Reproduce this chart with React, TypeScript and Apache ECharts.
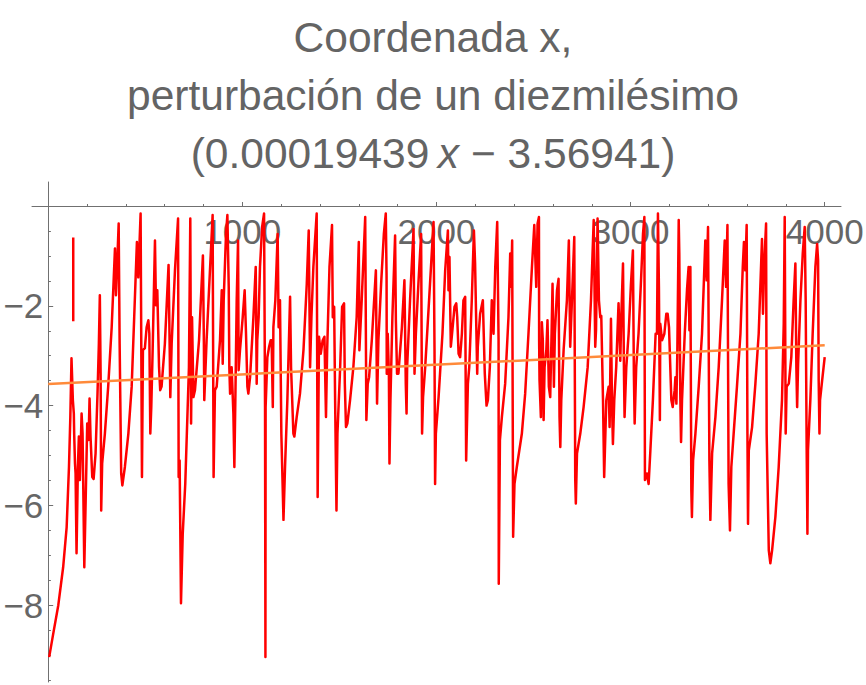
import React, { useEffect, useRef } from "react";
import * as echarts from "echarts";

// Red trajectory as [x, y] vertices, in five stretches
const stretch1: number[][] = [
  [5, -9.04], [26, -8.57], [52, -8.0], [77, -7.24], [95, -6.44], [107, -5.23], [114, -4.23], [120, -3.05],
  [127, -3.89], [132, -4.16], [134, -4.59], [138, -5.16], [141, -5.36], [146, -6.96], [153, -5.23], [158, -4.62],
  [163, -5.49], [172, -4.16], [177, -4.56], [186, -7.24], [193, -5.9], [201, -4.36], [208, -4.69], [213, -3.86],
  [218, -4.62], [227, -5.43], [234, -5.47], [244, -4.96], [254, -3.76], [261, -2.76], [266, -1.79], [270, -3.36],
  [273, -6.1], [278, -5.16], [292, -4.56], [309, -3.62], [327, -2.43], [344, -0.85], [349, -1.79], [356, -1.09],
  [363, -0.35], [368, -2.76], [376, -5.36], [382, -5.6], [395, -5.23], [413, -4.56], [430, -3.62], [443, -2.23],
  [457, -0.72], [464, -1.43], [476, -0.15], [483, -5.43], [488, -2.89], [498, -2.85], [507, -2.43], [516, -2.29],
  [521, -2.56], [526, -4.56], [531, -4.03], [538, -2.89], [550, -0.69], [555, -1.99], [562, -1.69], [571, -3.23],
  [577, -3.69], [584, -3.62], [601, -2.76], [620, -1.18], [626, -2.89], [629, -3.83], [636, -2.76], [653, -1.29],
  [669, -0.25], [672, -5.43], [677, -5.1], [684, -7.96], [693, -6.57], [706, -5.57], [725, -3.23], [732, -0.25],
  [736, -4.36], [741, -2.23], [748, -3.83], [756, -3.69], [777, -2.69], [797, -0.99], [802, -2.76], [804, -3.89],
];
const stretch2: number[][] = [
  [816, -2.69], [847, -0.18], [852, -5.43], [859, -3.69], [868, -3.62], [885, -2.69], [894, -1.69], [899, -3.16],
  [904, -1.89], [916, -0.56], [923, -0.18], [930, -1.62], [933, -3.23], [937, -3.76], [945, -3.23], [954, -4.16],
  [959, -5.23], [964, -3.89], [971, -1.89], [978, -0.69], [981, -3.29], [988, -2.89], [1002, -2.23], [1012, -1.69],
  [1019, -2.56], [1026, -3.62], [1031, -3.76], [1040, -3.43], [1057, -2.23], [1069, -1.22], [1074, -3.56], [1077, -2.69],
  [1084, -2.23], [1091, -1.22], [1102, -0.42], [1112, -0.15], [1117, -4.03], [1119, -9.04], [1120, -4.03], [1129, -3.03],
  [1138, -2.82], [1146, -2.69], [1151, -2.69], [1157, -4.03], [1160, -2.43], [1170, -1.89], [1182, -0.56], [1187, -2.43],
  [1194, -1.89], [1201, -4.56], [1212, -6.29], [1220, -5.23], [1232, -3.89], [1246, -1.82], [1251, -3.23], [1263, -4.56],
  [1268, -4.62], [1280, -4.23], [1297, -3.76], [1315, -2.89], [1332, -1.56], [1342, -0.49], [1349, -3.23], [1356, -2.23],
  [1366, -1.22], [1383, -0.15], [1388, -5.83], [1395, -2.62], [1404, -2.96], [1414, -2.69], [1423, -2.62], [1431, -4.23],
  [1437, -2.89], [1449, -1.22], [1462, -0.38], [1466, -2.23], [1473, -2.02], [1478, -3.89], [1485, -6.1], [1490, -4.56],
  [1504, -3.23], [1514, -2.02], [1524, -1.95], [1528, -3.56], [1534, -4.43], [1541, -4.36], [1555, -3.89], [1572, -3.23],
  [1589, -2.23], [1600, -0.72], [1603, -2.89],
];
const stretch3: number[][] = [
  [1615, -1.89], [1633, -0.22], [1639, -4.29], [1646, -3.56], [1653, -3.43], [1667, -2.69], [1688, -1.29], [1694, -3.96],
  [1701, -2.69], [1715, -1.56], [1729, -0.56], [1739, -0.15], [1743, -1.39], [1744, -3.36], [1749, -2.56], [1755, -3.36],
  [1758, -5.16], [1763, -3.89], [1773, -2.23], [1787, -0.59], [1791, -2.29], [1797, -3.36], [1804, -3.36], [1822, -2.43],
  [1835, -1.49], [1842, -3.56], [1846, -4.16], [1849, -3.23], [1864, -1.89], [1882, -0.46], [1887, -3.36], [1894, -2.56],
  [1907, -1.56], [1921, -0.56], [1926, -4.56], [1931, -3.83], [1942, -3.23], [1962, -1.89], [1985, -0.32], [1990, -2.86],
  [1993, -5.57], [1997, -4.56], [2011, -3.83], [2031, -2.56], [2045, -1.29], [2059, -0.49], [2062, -1.69], [2067, -1.02],
  [2074, -2.82], [2079, -2.62], [2093, -2.02], [2102, -1.95], [2107, -2.23], [2114, -2.96], [2122, -3.03], [2131, -2.56],
  [2139, -1.89], [2148, -1.82], [2153, -5.1], [2162, -3.56], [2169, -3.23], [2182, -1.89], [2193, -0.49], [2199, -1.15],
  [2210, -3.36], [2213, -2.82], [2225, -2.16], [2239, -1.89], [2249, -3.36], [2258, -4.0], [2265, -3.89], [2275, -3.23],
  [2285, -1.89], [2294, -2.56], [2303, -1.22], [2313, -0.32], [2320, -2.69], [2321, -7.57], [2327, -4.69], [2337, -4.23],
  [2354, -3.56], [2371, -2.23], [2380, -0.95], [2385, -1.62], [2390, -0.69], [2395, -6.63], [2402, -5.57],
];
const stretch4: number[][] = [
  [2414, -5.23], [2440, -4.56], [2457, -3.76], [2474, -2.56], [2492, -1.22], [2504, -0.38], [2514, -1.62], [2521, -0.35],
  [2528, -0.22], [2529, -2.72], [2531, -3.49], [2538, -4.23], [2543, -2.33], [2548, -2.69], [2552, -4.29], [2557, -3.23],
  [2566, -2.89], [2572, -2.29], [2579, -3.62], [2586, -3.83], [2593, -2.56], [2598, -1.56], [2605, -3.62], [2610, -2.56],
  [2621, -1.69], [2629, -1.46], [2634, -4.23], [2638, -4.83], [2643, -3.89], [2655, -2.89], [2672, -1.89], [2682, -0.69],
  [2689, -2.82], [2698, -1.89], [2710, -0.62], [2715, -5.49], [2718, -5.96], [2724, -4.96], [2741, -4.56], [2758, -4.03],
  [2779, -3.23], [2796, -1.89], [2810, -0.28], [2818, -2.82], [2822, -2.49], [2830, -0.25], [2837, -1.89], [2844, -2.23],
  [2849, -2.2], [2858, -3.89], [2864, -5.43], [2875, -3.89], [2887, -3.62], [2892, -4.43], [2899, -2.26], [2904, -3.89],
  [2909, -4.77], [2916, -3.89], [2926, -3.23], [2938, -1.95], [2947, -3.1], [2952, -2.23], [2961, -1.15], [2966, -3.36],
  [2969, -4.23], [2978, -3.23], [2990, -2.56], [3002, -1.56], [3012, -0.89], [3017, -3.36], [3021, -4.36], [3029, -3.23],
  [3041, -2.56], [3053, -1.56], [3064, -0.56], [3071, -0.22], [3074, -5.49], [3084, -5.36], [3093, -5.57], [3102, -4.9],
  [3115, -3.89], [3129, -2.56], [3136, -2.56], [3141, -0.15], [3146, -1.62], [3151, -4.29], [3153, -2.36], [3162, -2.69],
  [3174, -2.56], [3184, -2.16], [3191, -2.16], [3198, -2.43],
];
const stretch5: number[][] = [
  [3210, -3.89], [3217, -4.03], [3227, -3.69], [3231, -3.43], [3236, -3.96], [3241, -2.89], [3248, -0.28], [3251, -0.95],
  [3256, -3.76], [3260, -4.73], [3265, -3.89], [3279, -2.56], [3291, -1.66], [3299, -1.22], [3303, -2.49], [3308, -1.22],
  [3313, -5.7], [3316, -6.23], [3322, -5.1], [3334, -4.56], [3351, -3.62], [3368, -2.56], [3385, -0.69], [3392, -1.49],
  [3399, -0.42], [3406, -5.1], [3411, -6.29], [3420, -4.96], [3437, -4.23], [3454, -3.23], [3471, -1.89], [3485, -0.69],
  [3492, -1.62], [3499, -0.38], [3505, -5.57], [3512, -6.5], [3519, -5.23], [3531, -4.56], [3548, -3.62], [3566, -2.56],
  [3578, -1.22], [3584, -0.72], [3591, -1.29], [3598, -0.38], [3602, -4.56], [3605, -6.37], [3609, -4.9], [3626, -4.43],
  [3643, -3.56], [3660, -2.56], [3677, -0.66], [3682, -2.16], [3688, -1.22], [3698, -0.35], [3701, -4.56], [3712, -6.9],
  [3720, -7.16], [3729, -6.9], [3746, -6.23], [3763, -5.23], [3780, -3.89], [3789, -2.36], [3794, -0.22], [3799, -4.56],
  [3804, -3.62], [3815, -3.56], [3828, -3.03], [3840, -1.89], [3849, -1.15], [3854, -3.23], [3858, -4.03], [3863, -3.16],
  [3875, -1.89], [3887, -0.95], [3897, -0.42], [3902, -1.89], [3907, -4.83], [3911, -6.57], [3914, -4.9], [3926, -3.89],
  [3938, -2.56], [3952, -1.22], [3961, -0.76], [3966, -1.09], [3969, -3.49], [3973, -4.56], [3976, -3.89], [3987, -3.49],
  [4000, -3.03],
];
// A short detached piece near the start
const detachedPiece: number[][] = [[129, -0.63], [129, -2.31]];

// Fitted line from the title: 0.00019439 x - 3.56941
const fitSlope = 0.00019439;
const fitIntercept = -3.56941;
const fitXRange = [0, 4000];

// Tick labels
const xTickLabels = [1000, 2000, 3000, 4000];
const yTickLabels = [-2, -4, -6, -8];

const titleLines = ["Coordenada x,", "perturbación de un diezmilésimo"];
const fitSlopeText = "0.00019439";
const fitInterceptText = "3.56941";

const GRAY_TEXT = "#666666";
const GRAY_AXIS = "#707070";
const FONT = "'Liberation Sans', Arial, Helvetica, sans-serif";

export default function App() {
  const ref = useRef<HTMLDivElement>(null);

  useEffect(() => {
    if (!ref.current) return;
    const chart = echarts.init(ref.current, undefined, { renderer: "svg" });

    const redPath = [...stretch1, ...stretch2, ...stretch3, ...stretch4, ...stretch5];
    const fitLine = fitXRange.map((x) => [x, fitSlope * x + fitIntercept]);

    const titleText =
      `{a|${titleLines[0]}}\n{a|${titleLines[1]}}\n` +
      `{a|(${fitSlopeText}\u2009}{i|x}{a| \u2212 ${fitInterceptText})}`;

    const labelStyle = { fontSize: 35, color: GRAY_TEXT, fontFamily: FONT };
    const titleStyle = { fontFamily: FONT, fontSize: 42.5, lineHeight: 58, color: "#646464" };
    const tickLine = { color: GRAY_AXIS, width: 1 };

    chart.setOption({
      animation: false,
      backgroundColor: "#ffffff",
      title: {
        text: titleText,
        left: "center",
        top: 3,
        textStyle: {
          ...titleStyle,
          fontWeight: "normal",
          rich: { a: { ...titleStyle }, i: { ...titleStyle, fontStyle: "italic" } },
        },
      },
      grid: [
        // 0: axis lines (full extent)
        { left: 32, right: 25, top: 182, bottom: 3, outerBoundsMode: "none", containLabel: false },
        // 1: data
        { left: 48.2, right: 41.3, top: 182, bottom: 3, outerBoundsMode: "none", containLabel: false },
        // 2: y ticks and labels (0 .. -10)
        { left: 48.2, right: 41.3, top: 206, height: 499, outerBoundsMode: "none", containLabel: false },
        // 3: x ticks and labels, bottom edge on y = 0
        { left: 48.2, right: 41.3, top: 182, height: 24, outerBoundsMode: "none", containLabel: false },
      ],
      xAxis: [
        {
          gridIndex: 0, type: "value", min: -83.4, max: 4083.8,
          axisLine: { show: true, onZero: true, lineStyle: tickLine },
          axisTick: { show: false }, axisLabel: { show: false }, splitLine: { show: false },
        },
        { gridIndex: 1, type: "value", min: 0, max: 4000, show: false },
        { gridIndex: 2, type: "value", min: 0, max: 1, show: false },
        {
          gridIndex: 3, type: "value", min: 0, max: 4000, interval: 1000, position: "bottom",
          axisLine: { show: false, onZero: false },
          axisTick: { show: true, inside: true, length: 4, lineStyle: tickLine },
          minorTick: { show: true, splitNumber: 5, length: 2, lineStyle: tickLine },
          axisLabel: {
            ...labelStyle, margin: 8,
            formatter: (v: number) => (xTickLabels.includes(v) ? String(v) : ""),
          },
          splitLine: { show: false },
        },
      ],
      yAxis: [
        {
          gridIndex: 0, type: "value", min: -9.539, max: 0.481,
          axisLine: { show: true, onZero: true, lineStyle: tickLine },
          axisTick: { show: false }, axisLabel: { show: false }, splitLine: { show: false },
        },
        { gridIndex: 1, type: "value", min: -9.539, max: 0.481, show: false },
        {
          gridIndex: 2, type: "value", min: -10, max: 0, interval: 2, position: "left",
          axisLine: { show: false, onZero: false },
          axisTick: { show: true, inside: true, length: 5, lineStyle: tickLine },
          minorTick: { show: true, splitNumber: 4, length: 2.7, lineStyle: tickLine },
          axisLabel: {
            ...labelStyle, margin: 5,
            formatter: (v: number) => (yTickLabels.includes(v) ? String(v).replace("-", "\u2212") : ""),
          },
          splitLine: { show: false },
        },
        { gridIndex: 3, type: "value", min: 0, max: 1, show: false },
      ],
      series: [
        {
          type: "line", xAxisIndex: 1, yAxisIndex: 1, data: redPath,
          showSymbol: false, symbol: "none", connectNulls: false,
          lineStyle: { color: "#ff0000", width: 2.5, join: "round" },
          silent: true, z: 2,
        },
        {
          type: "line", xAxisIndex: 1, yAxisIndex: 1, data: detachedPiece,
          showSymbol: false, symbol: "none",
          lineStyle: { color: "#ff0000", width: 2.5 },
          silent: true, z: 2,
        },
        {
          type: "line", xAxisIndex: 1, yAxisIndex: 1, data: fitLine,
          showSymbol: false, symbol: "none",
          lineStyle: { color: "#ff8a3a", width: 2.5 },
          silent: true, z: 3,
        },
      ],
    });

    return () => chart.dispose();
  }, []);

  return (
    <div
      ref={ref}
      style={{ position: "fixed", left: 0, top: 0, width: 866, height: 685, background: "#fff" }}
    />
  );
}
